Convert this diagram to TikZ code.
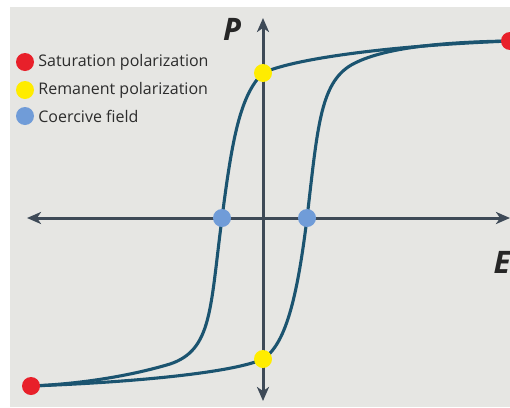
\documentclass[tikz,border=0pt]{standalone}
\usepackage{fontspec}
\setsansfont{Open Sans}
\usetikzlibrary{
  positioning,
  arrows.meta,
  backgrounds,
}
\definecolor{bgGray}{HTML}{E6E6E3}
\definecolor{loopCol}{HTML}{1B5470}
\definecolor{axisCol}{HTML}{3E4A57}
\definecolor{satRed}{HTML}{E8202A}
\definecolor{remYellow}{HTML}{FFEC00}
\definecolor{coerBlue}{HTML}{709CD8}
\definecolor{textMain}{HTML}{2C2C2C}
\tikzset{
  markdot/.style={circle, inner sep=0pt, minimum size=18pt},
  satdot/.style={markdot, fill=satRed},
  remdot/.style={markdot, fill=remYellow},
  coerdot/.style={markdot, fill=coerBlue},
  legtext/.style={font=\sffamily\fontsize{16}{18}\selectfont, text=textMain, inner sep=2pt},
  axlabel/.style={font=\sffamily\bfseries\itshape\fontsize{31}{36}\selectfont, text=black!85},
  axisline/.style={>={Stealth[length=14pt,width=12pt,inset=4pt]}, <->, axisCol, line width=3pt},
  hystline/.style={loopCol, line width=3.1pt},
}

\begin{document}
\begin{tikzpicture}[x=1pt, y=-1pt]

  \useasboundingbox (0,0) rectangle (510,407);

  % Axes ends
  \coordinate (eleft) at (27,218);
  \coordinate (eright) at (510,218);
  \coordinate (pbot) at (263,401);
  \coordinate (ptop) at (263,18);

  \node[axlabel] (plab) at (232,29) {P};
  \node[axlabel] (elab) at (502,262) {E};

  % Points on the loop
  \node[satdot] (sat1) at (510,41) {};
  \node[satdot] (sat2) at (31,386) {};
  \node[remdot] (rem1) at (263,73) {};
  \node[remdot] (rem2) at (263,359) {};
  \node[coerdot] (coer1) at (222,218) {};
  \node[coerdot] (coer2) at (307,218) {};

  % Legend
  \node[satdot] (lsat) at (25,62) {};
  \node[remdot] (lrem) at (25,90) {};
  \node[coerdot] (lcoer) at (25,116) {};
  \node[legtext, right=2pt of lsat] (tsat) {Saturation polarization};
  \node[legtext, right=2pt of lrem] (trem) {Remanent polarization};
  \node[legtext, right=2pt of lcoer] (tcoer) {Coercive field};

  \begin{scope}[on background layer]
    \fill[white] (0,0) rectangle (510,407);
    \fill[bgGray] (10,7) rectangle (510,407);

    \draw[axisline] (eleft) -- (eright);
    \draw[axisline] (pbot) -- (ptop);

    % descending branch
    \draw[hystline] (sat1.center) .. controls (380,46) and (290,60) .. (rem1.center)
      .. controls (240,95) and (232,140) .. (coer1.center)
      .. controls (210,310) and (212,350) .. (170,364)
      .. controls (130,376) and (80,384) .. (sat2.center);
    % ascending branch
    \draw[hystline] (sat2.center) .. controls (140,382) and (235,372) .. (rem2.center)
      .. controls (285,345) and (297,300) .. (coer2.center)
      .. controls (318,125) and (320,80) .. (355,63)
      .. controls (385,48) and (440,42) .. (sat1.center);
  \end{scope}

\end{tikzpicture}
\end{document}
